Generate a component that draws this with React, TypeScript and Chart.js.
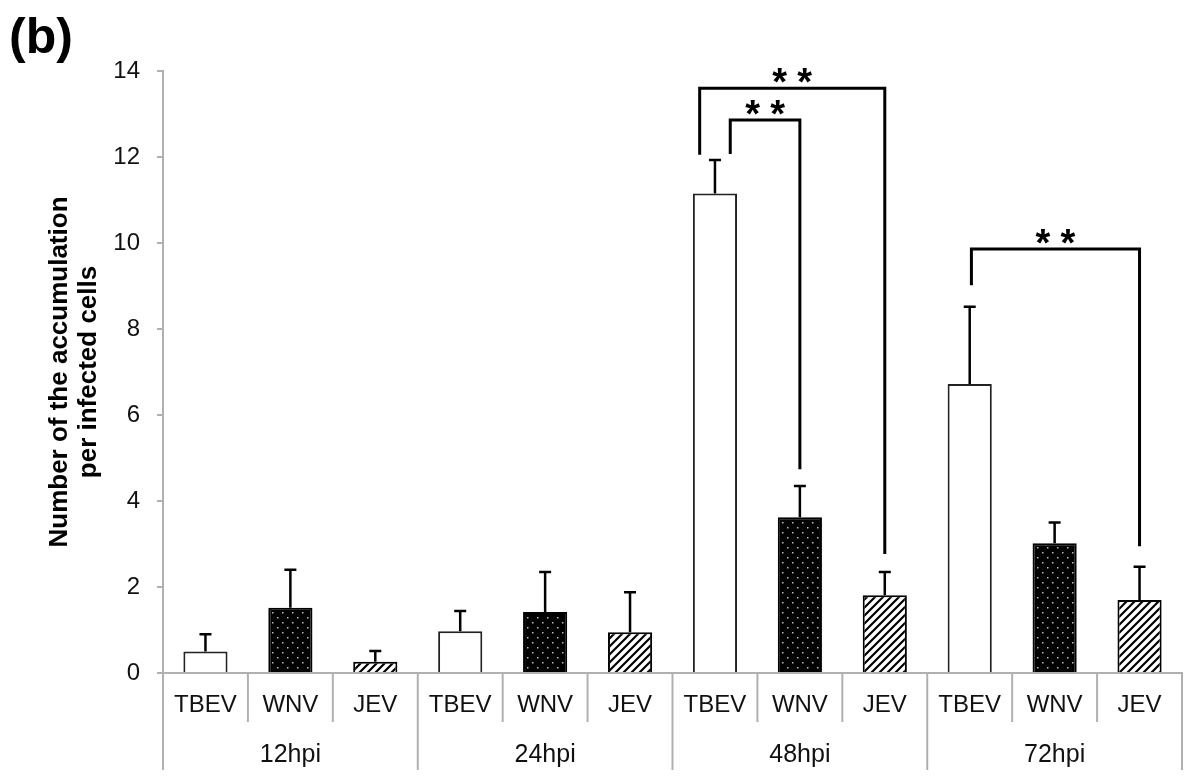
import React, { useEffect, useRef } from "react";
import { Chart, registerables } from "chart.js";

Chart.register(...registerables);

// ---------- data ----------
const groups = ["12hpi", "24hpi", "48hpi", "72hpi"];
const viruses = ["TBEV", "WNV", "JEV"];
const tbevMean = [0.5, 0.97, 11.15, 6.72];
const tbevSD = [0.4, 0.47, 0.78, 1.8];
const wnvMean = [1.52, 1.42, 3.62, 3.02];
const wnvSD = [0.88, 0.93, 0.73, 0.48];
const jevMean = [0.26, 0.95, 1.81, 1.7];
const jevSD = [0.25, 0.93, 0.54, 0.77];
const yMin = 0;
const yMax = 14;
const yStep = 2;
const yTitle = ["Number of the accumulation", "per infected cells"];
const panelLabel = "(b)";

// significance brackets (value units; "from"/"to" are virus indices within a group)
const brackets = [
  { group: 2, from: 0, to: 2, top: 13.6, fromEnd: 12.05, toEnd: 2.77, fromShift: -0.18, label: "*" },
  { group: 2, from: 0, to: 1, top: 12.86, fromEnd: 12.07, toEnd: 4.74, fromShift: 0.18, label: "*" },
  { group: 3, from: 0, to: 2, top: 9.86, fromEnd: 9.02, toEnd: 2.95, fromShift: 0.02, label: "*" },
];

const FONT = "'Liberation Sans', Arial, sans-serif";

function makeDots(): CanvasPattern | string {
  const c = document.createElement("canvas");
  c.width = 10;
  c.height = 10;
  const g = c.getContext("2d");
  if (!g) return "#000";
  g.fillStyle = "#000";
  g.fillRect(0, 0, 10, 10);
  g.fillStyle = "#bdbdbd";
  g.fillRect(2, 2, 1.5, 1.5);
  g.fillRect(7, 7, 1.5, 1.5);
  return g.createPattern(c, "repeat") || "#000";
}

function makeHatch(): CanvasPattern | string {
  const s = 8;
  const c = document.createElement("canvas");
  c.width = s;
  c.height = s;
  const g = c.getContext("2d");
  if (!g) return "#fff";
  g.fillStyle = "#fff";
  g.fillRect(0, 0, s, s);
  g.strokeStyle = "#000";
  g.lineWidth = 2.2;
  g.beginPath();
  g.moveTo(-2, s + 2);
  g.lineTo(s + 2, -2);
  g.moveTo(-s, s);
  g.lineTo(s, -s);
  g.moveTo(0, 2 * s);
  g.lineTo(2 * s, 0);
  g.stroke();
  return g.createPattern(c, "repeat") || "#fff";
}

const sds = [tbevSD, wnvSD, jevSD];

const annotate = {
  id: "annotate",
  afterDatasetsDraw(chart: any) {
    const ctx = chart.ctx;
    const ys = chart.scales.y;
    ctx.save();
    ctx.strokeStyle = "#000";
    ctx.lineWidth = 2.5;
    chart.data.datasets.forEach((ds: any, di: number) => {
      const meta = chart.getDatasetMeta(di);
      meta.data.forEach((bar: any, i: number) => {
        const v = ds.data[i];
        const yTop = ys.getPixelForValue(v + sds[di][i]);
        const yBar = ys.getPixelForValue(v);
        ctx.beginPath();
        ctx.moveTo(bar.x, yBar);
        ctx.lineTo(bar.x, yTop);
        ctx.moveTo(bar.x - 6, yTop);
        ctx.lineTo(bar.x + 6, yTop);
        ctx.stroke();
      });
    });
    ctx.restore();
  },
  afterDraw(chart: any) {
    const ctx = chart.ctx;
    const xs = chart.scales.x;
    const ys = chart.scales.y;
    const area = chart.chartArea;
    const n = groups.length;
    const catW = (xs.right - xs.left) / n;
    const slotW = catW / viruses.length;
    const base = area.bottom;
    ctx.save();
    // separators
    ctx.strokeStyle = "#b0b0b0";
    ctx.lineWidth = 2;
    for (let g = 0; g < n; g++) {
      const cx = xs.getPixelForValue(g);
      const gl = cx - catW / 2;
      ctx.beginPath();
      ctx.moveTo(gl, base);
      ctx.lineTo(gl, base + 97);
      ctx.stroke();
      for (let k = 1; k < viruses.length; k++) {
        const sx = gl + slotW * k;
        ctx.beginPath();
        ctx.moveTo(sx, base);
        ctx.lineTo(sx, base + 49);
        ctx.stroke();
      }
      if (g === n - 1) {
        ctx.beginPath();
        ctx.moveTo(cx + catW / 2, base);
        ctx.lineTo(cx + catW / 2, base + 97);
        ctx.stroke();
      }
    }
    // labels
    ctx.fillStyle = "#111";
    ctx.textAlign = "center";
    ctx.textBaseline = "middle";
    for (let g = 0; g < n; g++) {
      ctx.font = `24px ${FONT}`;
      viruses.forEach((v, di) => {
        const bar = chart.getDatasetMeta(di).data[g];
        ctx.fillText(v, bar.x, base + 32);
      });
      ctx.font = `25px ${FONT}`;
      ctx.fillText(groups[g], xs.getPixelForValue(g), base + 82);
    }
    // brackets
    ctx.strokeStyle = "#000";
    ctx.lineWidth = 3;
    ctx.lineJoin = "miter";
    brackets.forEach((b) => {
      const xa = chart.getDatasetMeta(b.from).data[b.group].x + b.fromShift * slotW;
      const xb = chart.getDatasetMeta(b.to).data[b.group].x;
      const yt = ys.getPixelForValue(b.top);
      ctx.beginPath();
      ctx.moveTo(xa, ys.getPixelForValue(b.fromEnd));
      ctx.lineTo(xa, yt);
      ctx.lineTo(xb, yt);
      ctx.lineTo(xb, ys.getPixelForValue(b.toEnd));
      ctx.stroke();
      const mid = (xa + xb) / 2;
      ctx.font = `bold 38px ${FONT}`;
      ctx.textAlign = "center";
      ctx.textBaseline = "alphabetic";
      ctx.fillStyle = "#000";
      ctx.fillText(b.label, mid - 12.5, yt - 15 + 22);
      ctx.fillText(b.label, mid + 12.5, yt - 15 + 22);
    });
    // panel label
    ctx.font = `bold 50px ${FONT}`;
    ctx.textAlign = "left";
    ctx.textBaseline = "alphabetic";
    ctx.fillText(panelLabel, 9, 53);
    ctx.restore();
  },
};

export default function App() {
  const ref = useRef<HTMLCanvasElement | null>(null);
  useEffect(() => {
    if (!ref.current) return;
    const chart = new Chart(ref.current, {
      type: "bar",
      data: {
        labels: groups,
        datasets: [
          { label: viruses[0], data: tbevMean, backgroundColor: "#fff", borderColor: "#222", borderWidth: 2 },
          { label: viruses[1], data: wnvMean, backgroundColor: makeDots() as any, borderColor: "#000", borderWidth: 2 },
          { label: viruses[2], data: jevMean, backgroundColor: makeHatch() as any, borderColor: "#000", borderWidth: 2 },
        ],
      },
      options: {
        animation: false,
        responsive: true,
        maintainAspectRatio: false,
        layout: { padding: { top: 71, left: 0, right: 2, bottom: 0 } },
        datasets: { bar: { categoryPercentage: 1, barPercentage: 0.52 } },
        plugins: { legend: { display: false }, tooltip: { enabled: false } },
        scales: {
          x: {
            ticks: { display: false },
            grid: { display: false },
            border: { display: true, color: "#b0b0b0", width: 2 },
            afterFit: (s: any) => {
              s.height = 107;
            },
          },
          y: {
            min: yMin,
            max: yMax,
            ticks: { stepSize: yStep, color: "#111", font: { family: FONT, size: 24 }, padding: 17 },
            grid: { drawOnChartArea: false, drawTicks: true, tickLength: 6, color: "#b0b0b0", lineWidth: 2 },
            border: { display: true, color: "#b0b0b0", width: 2 },
            title: {
              display: true,
              text: yTitle,
              color: "#000",
              font: { family: FONT, size: 26, weight: "bold", lineHeight: 1.1 },
              padding: { top: 46, bottom: 0 },
            },
            afterFit: (s: any) => {
              s.width = 163;
            },
          },
        },
      },
      plugins: [annotate],
    });
    return () => chart.destroy();
  }, []);
  return (
    <div style={{ position: "absolute", left: 0, top: 0, width: 1184, height: 780, background: "#fff" }}>
      <canvas ref={ref} />
    </div>
  );
}
